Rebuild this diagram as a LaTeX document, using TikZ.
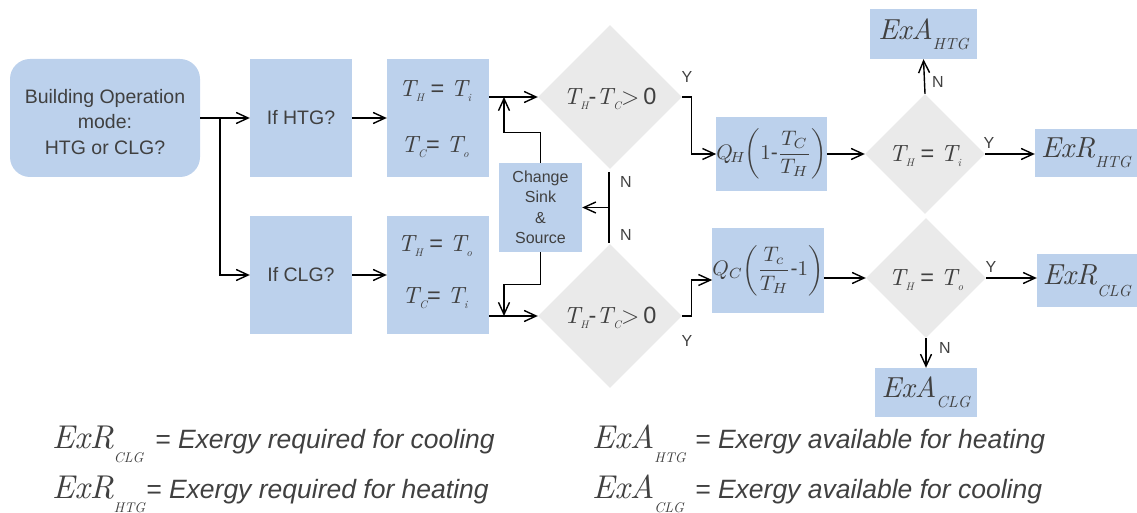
\documentclass[tikz,border=0pt]{standalone}
\usepackage{amsmath}
\usepackage{fontspec}
\setmainfont{Liberation Sans}
\newfontfamily\lmr{lmroman10-regular}[Extension=.otf, ItalicFont=lmroman10-italic]
\usetikzlibrary{arrows.meta,shapes.geometric,calc}
\definecolor{boxblue}{HTML}{BCD1EC}
\definecolor{dgray}{HTML}{EAEAEA}
\definecolor{txt}{HTML}{404040}
\newcommand\vit[1]{{\lmr\itshape #1}}
\newcommand\ms[1]{\raisebox{-5pt}{\fontsize{11}{11}\selectfont\lmr\itshape #1}}
\newcommand\exs[5]{{\fontsize{#1}{#1}\selectfont\lmr\itshape #2}\raisebox{#4}{\fontsize{#3}{#3}\selectfont\lmr\itshape #5}}
\begin{document}
\begin{tikzpicture}[x=1pt,y=-1pt,
  every node/.style={text=txt},
  bbox/.style={fill=boxblue, inner sep=0pt, align=center},
  dia/.style={diamond, aspect=1, fill=dgray, inner sep=0pt},
  arr/.style={-{Straight Barb[length=12pt,width=11pt]}, line width=1.4pt},
  ln/.style={line width=1.4pt},
  yn/.style={font=\fontsize{16}{18}\selectfont, inner sep=0pt},
  mt/.style={inner sep=0pt, font=\fontsize{23.5}{28}\selectfont},
  lg/.style={inner sep=0pt, anchor=base west},
  lgt/.style={inner sep=0pt, anchor=base west, font=\fontsize{26.5}{30}\selectfont\itshape}]
\useasboundingbox (0,0) rectangle (1137,513);
% blocks
\node[bbox, rounded corners=20pt, minimum width=190pt, minimum height=118pt] (bom) at (105,118) {};
\node[inner sep=0pt, align=center, font=\fontsize{19.5}{25.5}\selectfont] (bomt) at (105,122) {Building Operation\\mode:\\HTG or CLG?};
\node[bbox, minimum width=102pt, minimum height=118pt, font=\fontsize{19.5}{23}\selectfont] (ifh) at (301,118) {If HTG?};
\node[bbox, minimum width=102pt, minimum height=118pt, font=\fontsize{19.5}{23}\selectfont] (ifc) at (301,275) {If CLG?};
\node[bbox, minimum width=102pt, minimum height=118pt] (th) at (438,118) {};
\node[bbox, minimum width=102pt, minimum height=118pt] (tc) at (438,275) {};
\node[mt] (th1) at (435,91) {\vit{T}\ms{H} = \vit{T}\ms{i}};
\node[mt] (th2) at (435,147) {\vit{T}\ms{C}= \vit{T}\ms{o}};
\node[mt] (tc1) at (435,246) {\vit{T}\ms{H} = \vit{T}\ms{o}};
\node[mt] (tc2) at (435,298) {\vit{T}\ms{C}= \vit{T}\ms{i}};
\node[dia, minimum width=144pt, minimum height=144pt] (d1) at (610,97) {};
\node[mt] (d1t) at (610,99) {\vit{T}\ms{H}-\vit{T}\ms{C}{\lmr>}\,0};
\node[dia, minimum width=144pt, minimum height=144pt] (d2) at (610,316) {};
\node[mt] (d2t) at (610,318) {\vit{T}\ms{H}-\vit{T}\ms{C}{\lmr>}\,0};
\node[bbox, minimum width=83pt, minimum height=89pt, font=\fontsize{16}{20.5}\selectfont] (cs) at (540.5,207.5) {Change\\Sink\\\&\\Source};
\node[bbox, minimum width=105pt, minimum height=74pt] (qh) at (771.5,154)
  {\scalebox{2.1}{$Q_{\!H}\kern-0.5pt{\left(1\text{-}\dfrac{T_{C}}{T_{H}}\right)}$}};
\node[bbox, minimum width=102pt, minimum height=85pt] (qc) at (768,270.5)
  {\scalebox{2.1}{$Q_{C}\kern-0.5pt{\left(\dfrac{T_{c}}{T_{H}}\text{-}1\right)}$}};
\node[dia, minimum width=120pt, minimum height=120pt] (d3) at (925,154) {};
\node[mt] (d3t) at (925,156) {\vit{T}\ms{H} = \vit{T}\ms{i}};
\node[dia, minimum width=120pt, minimum height=120pt] (d4) at (926,278) {};
\node[mt] (d4t) at (926,280) {\vit{T}\ms{H} = \vit{T}\ms{o}};
\node[bbox, minimum width=107pt, minimum height=50pt] (exah) at (923.5,34) {\exs{29}{ExA}{16}{-10pt}{HTG}};
\node[bbox, minimum width=102pt, minimum height=48pt] (exrh) at (1086,153) {\exs{29}{ExR}{16}{-10pt}{HTG}};
\node[bbox, minimum width=100pt, minimum height=53pt] (exrc) at (1087,280.5) {\exs{29}{ExR}{16}{-12pt}{CLG}};
\node[bbox, minimum width=102pt, minimum height=49pt] (exac) at (926,392.5) {\exs{29}{ExA}{16}{-10pt}{CLG}};
% connectors
\coordinate (br) at (220,118);
\draw[arr] (bom.east) -- (ifh.west);
\draw[arr] (br) |- (ifc.west);
\draw[arr] (ifh.east) -- (th.west);
\draw[arr] (ifc.east) -- (tc.west);
\draw[arr] (d1.west -| th.east) -- (d1.west);
\draw[arr] (d2.west -| tc.east) -- (d2.west);
\coordinate (j1) at (504,97);
\coordinate (j2) at (504,316);
\draw[arr] (cs.north) -- ++(0,-30) -| (j1);
\draw[arr] (cs.south) -- ++(0,32) -| (j2);
\coordinate (n1) at (609,172);
\coordinate (n2) at (609,243);
\draw[ln] (n1) -- (n2);
\draw[arr] (n1 |- cs.east) -- (cs.east);
\draw[arr] (d1.east) -- ++(9,0) |- (qh.west);
\draw[arr] (d2.east) -- ++(9,0) |- ([yshift=-9.5pt]qc.west);
\draw[arr] (d3.west -| qh.east) -- (d3.west);
\draw[arr] (d4.west -| qc.east) -- (d4.west);
\draw[arr] (d3.north) -- (exah.south);
\draw[arr] (d3.east) -- (d3.east -| exrh.west);
\draw[arr] (d4.east) -- (d4.east -| exrc.west);
\draw[arr] (d4.south) -- (exac.north);
% labels
\node[yn] (y1) at (687,77) {Y};
\node[yn] (y2) at (687,341) {Y};
\node[yn] (nn1) at (626,182) {N};
\node[yn] (nn2) at (626,235) {N};
\node[yn] (nn3) at (938,82) {N};
\node[yn] (y3) at (989,143) {Y};
\node[yn] (y4) at (991,267) {Y};
\node[yn] (nn4) at (945,348) {N};
% legend
\node[lg] (l1) at (52,448) {\exs{33}{ExR}{14}{-14pt}{CLG}};
\node[lgt] (l1t) at (155,448) {= Exergy required for cooling};
\node[lg] (l2) at (52,498) {\exs{33}{ExR}{14}{-14pt}{HTG}};
\node[lgt] (l2t) at (146,498) {= Exergy required for heating};
\node[lg] (l3) at (592,448) {\exs{33}{ExA}{14}{-14pt}{HTG}};
\node[lgt] (l3t) at (695,448) {= Exergy available for heating};
\node[lg] (l4) at (592,498) {\exs{33}{ExA}{14}{-14pt}{CLG}};
\node[lgt] (l4t) at (695,498) {= Exergy available for cooling};
\end{tikzpicture}
\end{document}
